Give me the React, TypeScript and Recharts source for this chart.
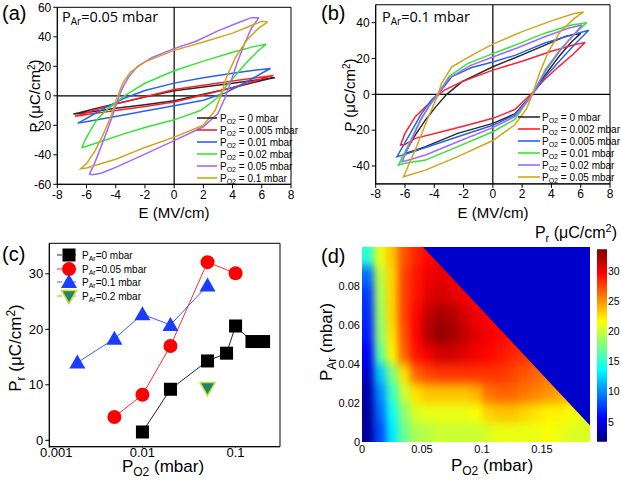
import React from 'react';
import {
  LineChart,
  Line,
  XAxis,
  YAxis,
  ReferenceLine,
  ReferenceArea,
  ComposedChart,
  Scatter,
  Area,
} from 'recharts';

type Pt = [number, number];

// ---------- (a) P-E loops at PAr = 0.05 mbar : [E (MV/cm), P (uC/cm2)] ----------
const loopA_0: Pt[] = [
  [6.9, 12.3], [5.5, 10.5], [4, 8.5], [2, 6], [0, 3.4], [-2, -0.9], [-4, -5.4], [-5.5, -9], [-6.5, -11.5], [-6.9, -12.3],
  [-6.5, -12], [-5.5, -10.6], [-4, -8.5], [-2, -6], [0, -3.3], [2, 1], [4, 5.5], [5.5, 9.2], [6.5, 11.6], [6.9, 12.3],
];
const loopA_0005: Pt[] = [
  [6.8, 13.8], [5.5, 12], [4, 10], [2, 7.2], [0, 4.2], [-2, -0.6], [-4, -5.6], [-5.5, -9.8], [-6.4, -12.8], [-6.8, -13.8],
  [-6.4, -13.4], [-5.5, -12], [-4, -10], [-2, -7.2], [0, -4.2], [2, 0.6], [4, 5.6], [5.5, 10], [6.4, 12.8], [6.8, 13.8],
];
const loopA_001: Pt[] = [
  [6.6, 18.5], [5.5, 17.3], [4, 15.3], [2, 12.2], [0, 8.6], [-2, 3.6], [-3.5, -2], [-4.5, -7], [-5.5, -12.5], [-6.3, -17], [-6.6, -18.5],
  [-6.2, -18], [-5, -15.8], [-4, -14], [-2, -10.3], [0, -6.8], [2, -3], [3.5, 2], [4.5, 7], [5.5, 12.5], [6.3, 17], [6.6, 18.5],
];
const loopA_002: Pt[] = [
  [6.3, 35], [5.5, 33.5], [4, 29.5], [2, 23.5], [0, 17], [-2, 8.5], [-3, 2.5], [-3.4, 0], [-4, -4.5], [-4.5, -8.5], [-5.2, -15],
  [-5.7, -23], [-6.1, -30], [-6.3, -35],
  [-6.1, -34.6], [-5, -31], [-3.5, -26], [-2, -21.5], [0, -16.3], [1.8, -10], [2.7, -3.5], [3.1, 0], [3.6, 7], [4.2, 14],
  [5, 23], [5.7, 30], [6.3, 35],
];
const loopA_005: Pt[] = [
  [5.8, 53], [5.3, 53], [4.5, 50], [3, 44], [1.5, 37], [0, 32], [-1.5, 26], [-2.5, 20], [-3.1, 13], [-3.5, 6], [-3.8, -1],
  [-4.2, -13], [-4.6, -24], [-5.1, -37], [-5.5, -47], [-5.8, -53],
  [-5.6, -53.5], [-5, -52.5], [-4, -48.5], [-2, -39.5], [0, -30.4], [2, -21], [3, -12], [3.5, -1], [3.9, 10], [4.3, 22],
  [4.8, 35], [5.3, 46], [5.8, 53],
];
const loopA_01: Pt[] = [
  [6.4, 50], [6, 50.5], [5, 46.5], [4, 42.5], [2, 36.5], [0, 30.8], [-2, 23], [-3, 16], [-3.5, 9], [-3.9, -1], [-4.3, -13],
  [-4.8, -25], [-5.4, -37], [-6, -46], [-6.4, -49.5],
  [-6, -49], [-4, -43], [-2, -35], [0, -28], [2, -20], [2.8, -10], [3.2, 0], [3.6, 13], [4.2, 26], [5, 38], [5.8, 46], [6.4, 50],
];
const LOOPS_A = [loopA_0, loopA_0005, loopA_001, loopA_002, loopA_005, loopA_01];
const PO2_A = ['0', '0.005', '0.01', '0.02', '0.05', '0.1'];

// ---------- (b) P-E loops at PAr = 0.1 mbar ----------
const loopB_0: Pt[] = [
  [6, 34], [5, 32.5], [4, 29], [2, 22], [0, 15.4], [-2.1, 7.1], [-3.15, 0], [-3.9, -7], [-4.6, -14.3], [-5.4, -24], [-6, -33],
  [-5.6, -32], [-4.6, -29.2], [-2.4, -21.8], [0, -16.2], [1.5, -11], [2.7, 0], [3.5, 10], [4.5, 21], [5.4, 29.5], [6, 34],
];
const loopB_0002: Pt[] = [
  [6.3, 29], [5.5, 27.5], [4, 24], [2, 18.5], [0, 13.5], [-2.1, 7.1], [-3.3, 2.4], [-3.9, -1.7], [-4.6, -6.9], [-5.3, -12.5],
  [-6, -21.8], [-6.3, -28.3],
  [-6, -28], [-5.3, -24.6], [-3.5, -20.9], [-1.7, -17.1], [0, -13.4], [1.5, -8.5], [2.6, 0], [3.5, 8], [4.5, 15.5], [5.5, 22.5], [6.3, 29],
];
const loopB_0005: Pt[] = [
  [6.55, 35.8], [5.3, 33], [3.5, 28.5], [1.6, 22], [0, 18], [-1.45, 15], [-2.8, 9.9], [-3.7, 0.5], [-4.2, -3.2], [-4.9, -11],
  [-5.5, -19.9], [-6.55, -34.8],
  [-6.2, -34], [-5.1, -31.1], [-2.4, -23.7], [0, -17.3], [1.5, -11.5], [2.7, 0], [3.6, 10], [4.6, 19], [5.6, 28], [6.55, 35.8],
];
const loopB_001: Pt[] = [
  [6.4, 40], [5.3, 38.5], [3.5, 34], [1.7, 28], [0, 22.7], [-1.7, 17.3], [-3, 9.9], [-3.8, -0.4], [-4.4, -6.9], [-5, -15],
  [-5.5, -23.7], [-6.44, -39.5],
  [-6, -38.5], [-4.6, -36.7], [-2.4, -29.2], [0, -20.9], [1.5, -14], [2.7, 0], [3.6, 14], [4.6, 25], [5.5, 33], [6.4, 40],
];
const loopB_002: Pt[] = [
  [6.1, 38.7], [5.2, 37], [3.5, 32], [1.7, 26], [0, 20.8], [-1.56, 16], [-3, 9], [-3.8, -0.4], [-4.3, -6], [-4.9, -14],
  [-5.4, -22.8], [-6.2, -37.6],
  [-5.8, -36.8], [-4.6, -33.9], [-2.4, -26.5], [0, -18.6], [1.5, -12.5], [2.7, 0], [3.6, 13], [4.5, 23.5], [5.4, 32], [6.1, 38.7],
];
const loopB_005: Pt[] = [
  [6.2, 46], [5.5, 45], [4, 41], [2, 35], [0, 28], [-1.2, 22.9], [-2.8, 15.4], [-3.5, 6.2], [-3.8, -1.3], [-4.4, -12.5],
  [-5.3, -31.1], [-6.1, -46],
  [-5.7, -45], [-4.6, -42.3], [-2.4, -34.8], [0, -25.8], [1.5, -17], [2.3, -8], [2.7, 0], [3.2, 12], [3.8, 24], [4.6, 35],
  [5.5, 42], [6.2, 46],
];
const LOOPS_B = [loopB_0, loopB_0002, loopB_0005, loopB_001, loopB_002, loopB_005];
const PO2_B = ['0', '0.002', '0.005', '0.01', '0.02', '0.05'];

const LOOP_COLORS = ['#2b2b2b', '#ff1f2f', '#2a62f0', '#36e436', '#a367ff', '#d4a21c'];
const E_TICKS = [-8, -6, -4, -2, 0, 2, 4, 6, 8];
const P_TICKS_A = [-60, -40, -20, 0, 20, 40, 60];
const P_TICKS_B = [-40, -20, 0, 20, 40];

// ---------- (c) remanent polarisation vs PO2 ----------
const C_PO2_AR0 = [0.01, 0.02, 0.05, 0.08, 0.1, 0.15, 0.2];
const C_PR_AR0 = [1.5, 9.2, 14.3, 15.7, 20.6, 17.8, 17.8];
const C_PO2_AR005 = [0.005, 0.01, 0.02, 0.05, 0.1];
const C_PR_AR005 = [4.2, 8.2, 17.0, 32.1, 30.1];
const C_PO2_AR01 = [0.002, 0.005, 0.01, 0.02, 0.05];
const C_PR_AR01 = [14.0, 18.3, 22.7, 20.8, 27.9];
const C_PO2_AR02 = [0.05];
const C_PR_AR02 = [9.4];
const C_LABELS = ['0', '0.05', '0.1', '0.2'];
const C_X_TICKS = [0.001, 0.01, 0.1];
const C_Y_TICKS = [0, 10, 20, 30];

// ---------- (d) Pr map over (PO2, PAr) ----------
const HEAT_X = [0.005, 0.015, 0.025, 0.035, 0.045, 0.055, 0.065, 0.075, 0.085, 0.095, 0.105, 0.115, 0.125, 0.135, 0.145, 0.155, 0.165, 0.175, 0.185];
const HEAT_Y = [0.095, 0.085, 0.075, 0.065, 0.055, 0.045, 0.035, 0.025, 0.015, 0.005];
const HEAT_PR = [
  [15, 21, 23.5, 27, 28.5, 29.5, 29.5, 29, 29, 29, 28.5, 28.5, 28, 28, 28, 28, 28, 28, 28],
  [9, 19.5, 23, 27.5, 29, 30, 30.5, 30, 29.5, 29, 29, 28.5, 28.5, 28, 28, 28, 28, 28, 28],
  [7.5, 19, 23, 27.5, 29, 30.5, 31, 30.5, 30, 29.5, 29, 28.5, 28.5, 28, 28, 28, 28, 28, 28],
  [7, 18.5, 23, 27.5, 29.5, 31.5, 32.5, 32, 31, 30, 29.5, 29, 29, 28.5, 28, 28, 28, 28, 28],
  [6.5, 18, 22.5, 27, 29.5, 32, 33, 32.5, 31.5, 30.5, 30, 29.5, 29, 28.5, 28, 28, 28, 28, 28],
  [5.5, 16.5, 22, 26.5, 29, 30, 31, 31, 30.5, 30, 29.5, 29, 28.5, 28, 27.5, 27, 27, 27, 27],
  [4, 12, 17.5, 22.5, 26.5, 27.5, 28, 28, 28, 28, 28, 28, 27.5, 27, 26.5, 26, 26, 26, 26],
  [3, 10, 15.5, 20, 22.5, 23.5, 23.5, 23.5, 23.5, 24, 26, 26.5, 26.5, 26, 25.5, 25, 24.5, 24, 24],
  [2.5, 9, 14, 18, 20.5, 21, 21, 21, 21, 21.5, 23, 23.5, 23.5, 23, 22.5, 22, 22, 21.5, 21],
  [2.5, 8, 13, 17, 19, 19.5, 20, 20, 20, 20, 20.5, 21, 21, 21, 21, 21.5, 21, 20.5, 20.5],
];
// edge of the measured region (above it the map is empty / blue)
const D_EDGE = [
  { x: 0.0508, b: 0.1 },
  { x: 0.19, b: 0.0085 },
];
const D_X_TICKS = [0, 0.05, 0.1, 0.15];
const D_Y_TICKS = [0, 0.02, 0.04, 0.06, 0.08];
const CB_TICKS = [5, 10, 15, 20, 25, 30];
const CB_MIN = 1.7;
const CB_MAX = 33.6;

const FONT = '"Liberation Sans", Arial, Helvetica, sans-serif';
const TICK = { fontSize: 12, fill: '#000', fontFamily: FONT };

const toEP = (pts: Pt[]) => pts.map(([E, P]) => ({ E, P }));
const toXY = (xs: number[], ys: number[]) => xs.map((x, i) => ({ x, y: ys[i] }));

const clamp = (v: number) => Math.max(0, Math.min(1, v));
function jet(val: number) {
  const v = clamp((val - CB_MIN) / (CB_MAX - CB_MIN));
  const r = clamp(1.5 - Math.abs(4 * v - 3));
  const g = clamp(1.5 - Math.abs(4 * v - 2));
  const b = clamp(1.5 - Math.abs(4 * v - 1));
  return `rgb(${Math.round(r * 255)},${Math.round(g * 255)},${Math.round(b * 255)})`;
}

// markers for panel (c)
const Square = ({ cx, cy, s = 13 }: any) => <rect x={cx - s / 2} y={cy - s / 2} width={s} height={s} fill="#000" />;
const Circ = ({ cx, cy, r = 7 }: any) => <circle cx={cx} cy={cy} r={r} fill="#ff0000" />;
const Tri = ({ cx, cy, s = 8 }: any) => (
  <polygon points={`${cx},${cy - s} ${cx - s},${cy + s * 0.75} ${cx + s},${cy + s * 0.75}`} fill="#1c3cff" />
);
const InvTri = ({ cx, cy, s = 7.5 }: any) => (
  <polygon
    points={`${cx - s},${cy - s * 0.75} ${cx + s},${cy - s * 0.75} ${cx},${cy + s}`}
    fill="#26806a"
    stroke="#b8e62a"
    strokeWidth={1.5}
  />
);

const C_SERIES = [
  { data: toXY(C_PO2_AR0, C_PR_AR0), line: '#1e1e50', Mark: Square },
  { data: toXY(C_PO2_AR005, C_PR_AR005), line: '#ff2a2a', Mark: Circ },
  { data: toXY(C_PO2_AR01, C_PR_AR01), line: '#3a5cff', Mark: Tri },
  { data: toXY(C_PO2_AR02, C_PR_AR02), line: '#7fbf3a', Mark: InvTri },
];

// x tick of panel (c): the first label sits a little to the right, clear of the "0" on the y axis
const LogTick = ({ x, y, payload }: any) => (
  <text
    x={x + (payload.value === C_X_TICKS[0] ? 7 : 0)}
    y={y}
    dy="0.71em"
    textAnchor="middle"
    fontSize={13}
    fontFamily={FONT}
    fill="#000"
  >
    {String(payload.value)}
  </text>
);

function LoopPanel({ loops, width, margin, yDomain, yTicks }: any) {
  return (
    <LineChart width={width} height={240} margin={margin}>
      <XAxis
        type="number"
        dataKey="E"
        domain={[-8, 8]}
        ticks={E_TICKS}
        tick={TICK}
        tickSize={4}
        height={30}
        stroke="#000"
      />
      <YAxis type="number" domain={yDomain} ticks={yTicks} tick={TICK} tickSize={4} width={40} stroke="#000" />
      <ReferenceArea x1={-8} x2={8} y1={yDomain[0]} y2={yDomain[1]} fill="none" stroke="#000" strokeWidth={1} />
      <ReferenceLine x={0} stroke="#000" strokeWidth={1.2} />
      <ReferenceLine y={0} stroke="#000" strokeWidth={1.2} />
      {loops.map((pts: Pt[], i: number) => (
        <Line
          key={i}
          data={toEP(pts)}
          dataKey="P"
          type="linear"
          stroke={LOOP_COLORS[i]}
          strokeWidth={1.5}
          dot={false}
          activeDot={false}
          isAnimationActive={false}
        />
      ))}
    </LineChart>
  );
}

function PanelC() {
  return (
    <LineChart width={310} height={245} margin={{ top: 3.3, right: 30, bottom: 8.3, left: 13.3 }}>
      <XAxis
        type="number"
        dataKey="x"
        scale="log"
        domain={[0.001, 0.3]}
        ticks={C_X_TICKS}
        tick={<LogTick />}
        tickSize={1}
        tickMargin={0}
        height={30}
        stroke="#000"
        allowDataOverflow
      />
      <YAxis
        type="number"
        domain={[-1.15, 35.5]}
        ticks={C_Y_TICKS}
        tick={{ ...TICK, fontSize: 13 }}
        tickSize={4}
        width={36}
        stroke="#000"
        allowDataOverflow
      />
      <ReferenceArea x1={0.001} x2={0.3} y1={-1.15} y2={35.5} fill="none" stroke="#000" />
      {C_SERIES.map((s, i) => (
        <Line
          key={i}
          data={s.data}
          dataKey="y"
          type="linear"
          stroke={s.line}
          strokeWidth={1}
          dot={(p: any) => <s.Mark key={`m${i}-${p.index}`} cx={p.cx} cy={p.cy} />}
          activeDot={false}
          isAnimationActive={false}
        />
      ))}
    </LineChart>
  );
}

const HEAT_CELLS = HEAT_Y.flatMap((y, j) => HEAT_X.map((x, i) => ({ x, y, v: HEAT_PR[j][i] })));
const D_PLOT_W = 228;
const D_PLOT_H = 195;
const CELL_W = D_PLOT_W / HEAT_X.length;
const CELL_H = D_PLOT_H / HEAT_Y.length;
const D_MARGIN = { top: 7, right: 0, bottom: 13, left: 18 };

function PanelD() {
  return (
    <ComposedChart width={280} height={245} margin={D_MARGIN}>
      <XAxis
        type="number"
        dataKey="x"
        domain={[0, 0.19]}
        ticks={D_X_TICKS}
        tickFormatter={(v: number) => String(v)}
        tick={{ ...TICK, fontSize: 11 }}
        tickLine={false}
        axisLine={false}
        tickSize={0}
        tickMargin={3}
        height={30}
      />
      <YAxis
        type="number"
        dataKey="y"
        domain={[0, 0.1]}
        ticks={D_Y_TICKS}
        tickFormatter={(v: number) => String(v)}
        tick={{ ...TICK, fontSize: 11 }}
        tickLine={false}
        axisLine={false}
        tickSize={0}
        tickMargin={2}
        width={34}
      />
      <Scatter
        data={HEAT_CELLS}
        dataKey="y"
        isAnimationActive={false}
        shape={(p: any) => (
          <rect
            x={p.cx - CELL_W / 2}
            y={p.cy - CELL_H / 2}
            width={CELL_W}
            height={CELL_H}
            fill={jet(p.payload.v)}
          />
        )}
      />
    </ComposedChart>
  );
}

// empty (blue) corner drawn on top of the map so that its edge stays sharp
function PanelDEdge() {
  return (
    <ComposedChart
      width={280}
      height={245}
      data={D_EDGE}
      margin={{ top: D_MARGIN.top, right: D_MARGIN.right, bottom: D_MARGIN.bottom + 30, left: D_MARGIN.left + 34 }}
    >
      <XAxis type="number" dataKey="x" domain={[0, 0.19]} hide />
      <YAxis type="number" domain={[0, 0.1]} hide />
      <Area
        dataKey="b"
        type="linear"
        baseValue="dataMax"
        stroke="none"
        fill="rgb(0,0,205)"
        fillOpacity={1}
        dot={false}
        activeDot={false}
        isAnimationActive={false}
      />
    </ComposedChart>
  );
}

function ColorBar() {
  return (
    <ComposedChart
      width={31}
      height={210}
      data={[{ x: 0, y: CB_MIN }, { x: 1, y: CB_MAX }]}
      margin={{ top: 9.3, right: 0, bottom: 8.3, left: 7 }}
    >
      <XAxis type="number" dataKey="x" domain={[0, 1]} hide />
      <YAxis
        type="number"
        orientation="right"
        domain={[CB_MIN, CB_MAX]}
        ticks={CB_TICKS}
        tick={{ ...TICK, fontSize: 10.5 }}
        tickLine={false}
        axisLine={false}
        tickSize={0}
        tickMargin={1}
        width={14}
      />
      <ReferenceArea x1={0} x2={1} y1={CB_MIN} y2={CB_MAX} fill="url(#jetGrad)" fillOpacity={1} stroke="none" />
      <Line dataKey="y" stroke="none" dot={false} activeDot={false} isAnimationActive={false} />
    </ComposedChart>
  );
}

// P with a subscript, followed by the rest of a label
function SubLabel({ sub, rest, size, subSize, sup }: any) {
  const d = size * 0.22;
  return (
    <>
      P
      <tspan fontSize={subSize} dy={d}>
        {sub}
      </tspan>
      <tspan dy={-d}>{rest}</tspan>
      {sup && (
        <>
          <tspan fontSize={subSize} dy={-size * 0.35}>
            2
          </tspan>
          <tspan dy={size * 0.35}>)</tspan>
        </>
      )}
    </>
  );
}

function Overlay() {
  const legendRows = (x0: number, x1: number, tx: number, ys: number[], names: string[]) =>
    ys.map((y, i) => (
      <g key={i}>
        <line x1={x0} x2={x1} y1={y} y2={y} stroke={LOOP_COLORS[i]} strokeWidth={1.6} />
        <text x={tx} y={y + 3.5} fontSize={10}>
          P
          <tspan fontSize={7} dy={2}>
            O2
          </tspan>
          <tspan dy={-2}>{` = ${names[i]} mbar`}</tspan>
        </text>
      </g>
    ));
  const cRows = [255, 269, 282, 296];
  return (
    <svg
      width={621}
      height={485}
      style={{ position: 'absolute', left: 0, top: 0, pointerEvents: 'none' }}
      fontFamily={FONT}
      fill="#000"
    >
      {/* panel letters */}
      <text x={2} y={20} fontSize={20}>(a)</text>
      <text x={321} y={20} fontSize={20}>(b)</text>
      <text x={2} y={261} fontSize={20}>(c)</text>
      <text x={321} y={263} fontSize={20}>(d)</text>

      {/* insets */}
      <text x={62} y={22} fontSize={14.5} fontFamily='"Open Sans", sans-serif'>
        P<tspan fontSize={10} dy={3}>Ar</tspan>
        <tspan dy={-3}>=0.05 mbar</tspan>
      </text>
      <text x={382} y={22} fontSize={14.5} fontFamily='"Open Sans", sans-serif'>
        P<tspan fontSize={10} dy={3}>Ar</tspan>
        <tspan dy={-3}>=0.1 mbar</tspan>
      </text>

      {/* axis titles (a) and (b) */}
      <text transform="translate(40,96) rotate(-90)" textAnchor="middle" fontSize={15}>
        P (μC/cm<tspan fontSize={10} dy={-5}>2</tspan>
        <tspan dy={5}>)</tspan>
      </text>
      <text x={174} y={218} textAnchor="middle" fontSize={15}>E (MV/cm)</text>
      <text transform="translate(355,95) rotate(-90)" textAnchor="middle" fontSize={15}>
        P (μC/cm<tspan fontSize={10} dy={-5}>2</tspan>
        <tspan dy={5}>)</tspan>
      </text>
      <text x={493} y={218} textAnchor="middle" fontSize={15}>E (MV/cm)</text>

      {/* axis titles (c) */}
      <text transform="translate(21,348) rotate(-90)" textAnchor="middle" fontSize={17}>
        <SubLabel sub="r" rest=" (μC/cm" size={17} subSize={12} sup />
      </text>
      <text x={163} y={472} textAnchor="middle" fontSize={17}>
        <SubLabel sub="O2" rest=" (mbar)" size={17} subSize={12} />
      </text>

      {/* axis titles (d) */}
      <text transform="translate(332,342) rotate(-90)" textAnchor="middle" fontSize={17}>
        <SubLabel sub="Ar" rest=" (mbar)" size={17} subSize={12} />
      </text>
      <text x={492} y={471} textAnchor="middle" fontSize={17}>
        <SubLabel sub="O2" rest=" (mbar)" size={17} subSize={12} />
      </text>
      <text x={576} y={238} textAnchor="middle" fontSize={16}>
        <SubLabel sub="r" rest=" (μC/cm" size={16} subSize={11} sup />
      </text>

      {/* legends (a), (b) */}
      {legendRows(197, 217, 220, [118, 130, 142, 154, 166, 178], PO2_A)}
      {legendRows(518, 540, 542, [117, 129, 141, 153, 165, 177], PO2_B)}

      {/* legend (c) */}
      {C_SERIES.map((s, i) => (
        <g key={i}>
          <line x1={57} x2={80} y1={cRows[i]} y2={cRows[i]} stroke={s.line} strokeWidth={1} strokeDasharray="5 9" />
          <s.Mark cx={69} cy={cRows[i]} />
          <text x={82} y={cRows[i] + 3.5} fontSize={10}>
            P<tspan fontSize={7} dy={2}>Ar</tspan>
            <tspan dy={-2}>{`=${C_LABELS[i]} mbar`}</tspan>
          </text>
        </g>
      ))}
    </svg>
  );
}

export default function App() {
  return (
    <div
      style={{
        position: 'relative',
        width: 621,
        height: 485,
        background: '#fff',
        overflow: 'hidden',
        fontFamily: FONT,
      }}
    >
      <style>{`body{margin:0} .heatmap .recharts-scatter{filter:url(#heatBlur)}`}</style>
      <svg width={0} height={0} style={{ position: 'absolute' }}>
        <defs>
          <filter id="heatBlur" x="0" y="0" width="1" height="1" colorInterpolationFilters="sRGB">
            <feGaussianBlur stdDeviation="3.5 5.5" />
            <feComponentTransfer>
              <feFuncA type="table" tableValues="1 1" />
            </feComponentTransfer>
          </filter>
          <linearGradient id="jetGrad" x1="0" y1="1" x2="0" y2="0">
            <stop offset="0" stopColor="#000080" />
            <stop offset="0.125" stopColor="#0000ff" />
            <stop offset="0.375" stopColor="#00ffff" />
            <stop offset="0.625" stopColor="#ffff00" />
            <stop offset="0.875" stopColor="#ff0000" />
            <stop offset="1" stopColor="#800000" />
          </linearGradient>
        </defs>
      </svg>

      <div style={{ position: 'absolute', left: 0, top: 0 }}>
        <LoopPanel
          loops={LOOPS_A}
          width={310}
          margin={{ top: 7.3, right: 19, bottom: 25.7, left: 17.3 }}
          yDomain={[-60, 60]}
          yTicks={P_TICKS_A}
        />
      </div>
      <div style={{ position: 'absolute', left: 310, top: 0 }}>
        <LoopPanel
          loops={LOOPS_B}
          width={311}
          margin={{ top: 4.75, right: 11, bottom: 26.1, left: 25.7 }}
          yDomain={[-50, 50]}
          yTicks={P_TICKS_B}
        />
      </div>
      <div style={{ position: 'absolute', left: 0, top: 240 }}>
        <PanelC />
      </div>
      <div className="heatmap" style={{ position: 'absolute', left: 310, top: 240 }}>
        <PanelD />
      </div>
      <div style={{ position: 'absolute', left: 310, top: 240 }}>
        <PanelDEdge />
      </div>
      <div style={{ position: 'absolute', left: 590, top: 240 }}>
        <ColorBar />
      </div>
      <Overlay />
    </div>
  );
}
